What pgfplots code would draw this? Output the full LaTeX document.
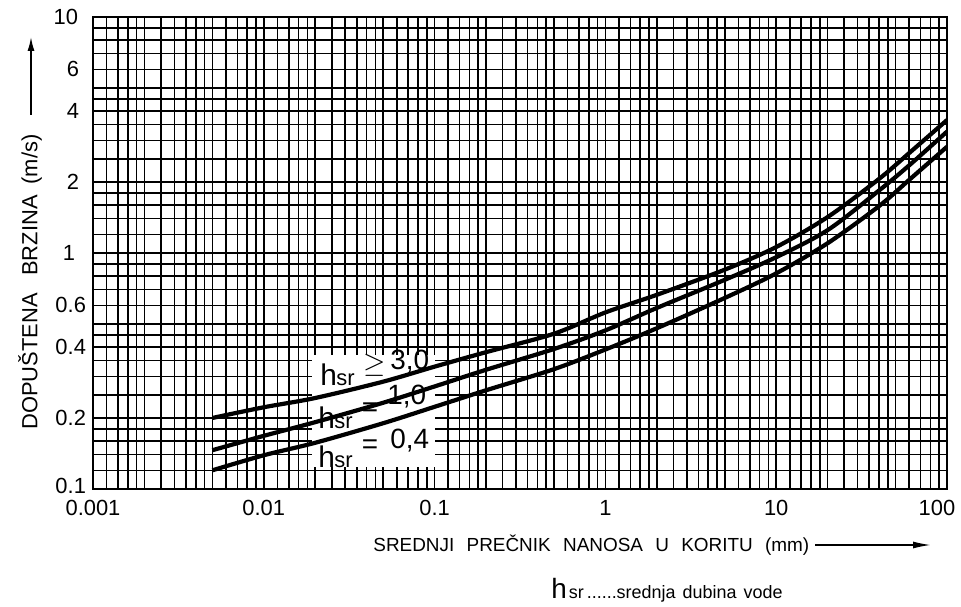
\documentclass[border=0pt]{standalone}
\usepackage{pgfplots}
\pgfplotsset{compat=1.18}
\usepackage{fontspec}
\setmainfont{Liberation Sans}
\usetikzlibrary{arrows.meta}

\begin{document}
\begin{tikzpicture}
\begin{axis}[
  xmode=log, ymode=log,
  scale only axis, width=427bp, height=236bp,
  xmin=0.001, xmax=100, ymin=0.1, ymax=10,
  xtick={0.001,0.01,0.1,1,10,100},
  xticklabels={0.001,0.01,0.1,1,10,\hspace{-10bp}100},
  ytick={0.1,0.2,0.4,0.6,1,2,4,6,10},
  yticklabels={\raisebox{3bp}{0.1},0.2,0.4,0.6,1\rule{5.5bp}{0pt},2\rule{3.5bp}{0pt},4\rule{3.5bp}{0pt},6\rule{3.5bp}{0pt},10\rule{4bp}{0pt}},
  minor xtick={0.0012,0.0014,0.0016,0.0018,0.002,0.0025,0.003,0.0035,0.004,0.0045,0.005,0.006,0.007,0.008,0.009,
    0.012,0.014,0.016,0.018,0.02,0.025,0.03,0.035,0.04,0.045,0.05,0.06,0.07,0.08,0.09,
    0.12,0.14,0.16,0.18,0.2,0.25,0.3,0.35,0.4,0.45,0.5,0.6,0.7,0.8,0.9,
    1.2,1.4,1.6,1.8,2,2.5,3,3.5,4,4.5,5,6,7,8,9,
    12,14,16,18,20,25,30,35,40,45,50,60,70,80,90},
  minor ytick={0.12,0.14,0.16,0.18,0.2,0.25,0.3,0.35,0.4,0.45,0.5,0.6,0.7,0.8,0.9,
    1.2,1.4,1.6,1.8,2,2.5,3,3.5,4,4.5,5,6,7,8,9},
  grid=both,
  major tick length=0pt, minor tick length=0pt,
  grid style={black, line width=0.8bp},
  axis line style={black, line width=1.1bp},
  ticklabel style={font=\fontsize{11}{13}\selectfont},
  xticklabel style={yshift=-2bp},
]
\fill[white] (axis cs:0.0191,0.124) rectangle (axis cs:0.1005,0.37);
% h_sr >= 3.0
\addplot[black, line width=2.1bp, smooth] coordinates {
 (0.005,0.200) (0.01,0.222) (0.02,0.243) (0.05,0.285) (0.1,0.330) (0.2,0.380)
 (0.5,0.455) (1,0.56) (2,0.665) (5,0.85) (10,1.06) (20,1.42) (40,2.06) (60,2.65) (100,3.66)};
% h_sr = 1.0
\addplot[black, line width=2.1bp, smooth] coordinates {
 (0.005,0.146) (0.01,0.168) (0.02,0.192) (0.05,0.232) (0.1,0.272) (0.2,0.32)
 (0.5,0.392) (1,0.47) (2,0.585) (5,0.77) (10,0.96) (20,1.25) (40,1.84) (60,2.35) (100,3.27)};
% h_sr = 0.4
\addplot[black, line width=2.1bp, smooth] coordinates {
 (0.005,0.120) (0.01,0.139) (0.02,0.157) (0.05,0.19) (0.1,0.223) (0.2,0.262)
 (0.5,0.322) (1,0.39) (2,0.48) (5,0.645) (10,0.82) (20,1.10) (40,1.58) (60,2.04) (100,2.82)};
\end{axis}
\begin{scope}[shift={(current axis.south west)}]
% curve labels
\begin{scope}[every node/.style={inner sep=0pt}]
\node[anchor=base west, font=\fontsize{15}{15}\selectfont] at (113.5bp,51.5bp) {h};
\node[anchor=base west, font=\fontsize{11}{12}\selectfont] at (121.5bp,51.5bp) {sr};
\node[font=\fontsize{15}{15}\selectfont] at (141bp,62bp) {$\geq$};
\node[anchor=base west, font=\fontsize{14}{14}\selectfont] at (148.5bp,59.5bp) {3,0};
\node[anchor=base west, font=\fontsize{15}{15}\selectfont] at (112.5bp,30.5bp) {h};
\node[anchor=base west, font=\fontsize{11}{12}\selectfont] at (120.5bp,30.5bp) {sr};
\node[font=\fontsize{14}{14}\selectfont] at (138.5bp,39.5bp) {=};
\node[anchor=base west, font=\fontsize{14}{14}\selectfont] at (147bp,42bp) {1,0};
\node[anchor=base west, font=\fontsize{15}{15}\selectfont] at (112.5bp,11bp) {h};
\node[anchor=base west, font=\fontsize{11}{12}\selectfont] at (120.5bp,11bp) {sr};
\node[font=\fontsize{14}{14}\selectfont] at (138.5bp,21bp) {=};
\node[anchor=base west, font=\fontsize{14}{14}\selectfont] at (148.5bp,20.5bp) {0,4};
\end{scope}
\node[rotate=90, anchor=west, inner sep=0pt, font=\fontsize{11}{13}\selectfont] at (-31.5bp,29.5bp)
  {DOPUŠTENA\hspace{0.8em}BRZINA\hspace{0.5em}(m/s)};
\draw[line width=0.8bp, -{Latex[length=7bp,width=3.5bp]}] (-31bp,187bp) -- (-31bp,226bp);
\node[anchor=west, inner sep=0pt, font=\fontsize{9.5}{12}\selectfont] at (140bp,-28bp)
  {SREDNJI\hspace{0.65em}PREČNIK\hspace{0.65em}NANOSA\hspace{0.65em}U\hspace{0.65em}KORITU\hspace{0.65em}(mm)};
\draw[line width=0.8bp, -{Latex[length=9bp,width=3.5bp]}] (361bp,-28bp) -- (419bp,-28bp);
\node[anchor=base west, inner sep=0pt] at (229bp,-54.5bp)
  {{\fontsize{14}{14}\selectfont h}\hspace{1bp}{\fontsize{9}{10}\selectfont sr\,......srednja\hspace{0.4em}dubina\hspace{0.4em}vode}};
\pgfresetboundingbox
\path (-46.5bp,-59bp) rectangle (434bp,244.5bp);
\end{scope}
\end{tikzpicture}
\end{document}
